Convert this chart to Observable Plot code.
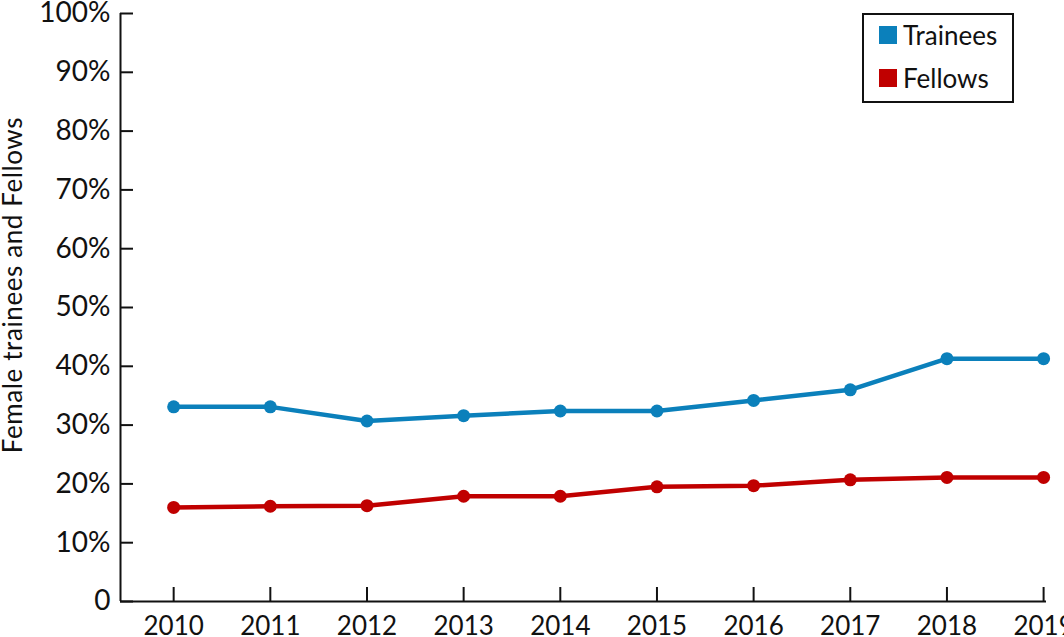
<!DOCTYPE html>
<html>
<head>
<meta charset="utf-8">
<script src="https://cdn.jsdelivr.net/npm/d3@7"></script>
<script src="https://cdn.jsdelivr.net/npm/@observablehq/plot@0.6"></script>
<style>
  html, body { margin: 0; padding: 0; background: #fff; }
  #wrap { position: relative; width: 1064px; height: 637px; overflow: hidden; font-family: Lato, "Noto Sans", sans-serif; }
  #legend { position: absolute; left: 862px; top: 13px; width: 148px; height: 86px; border: 2px solid #111; background: #fff; }
  .item { position: absolute; left: 15px; display: flex; align-items: center; font-size: 26px; color: #111; }
  .sw { width: 18px; height: 18px; margin-right: 6px; }
  #ytitle { position: absolute; left: 12px; top: 285px; transform: translate(-50%, -50%) rotate(-90deg); white-space: nowrap; font-size: 26px; letter-spacing: 0.6px; color: #111; }
</style>
</head>
<body>
<div id="wrap"></div>
<script>
const years = [2010, 2011, 2012, 2013, 2014, 2015, 2016, 2017, 2018, 2019];
const trainees = [33.1, 33.1, 30.7, 31.6, 32.4, 32.4, 34.2, 36.0, 41.3, 41.3];
const fellows = [16.0, 16.2, 16.3, 17.9, 17.9, 19.5, 19.7, 20.7, 21.1, 21.1];
const seriesNames = ["Trainees", "Fellows"];
const seriesColors = ["#0b80bb", "#c00000"];
const yTicks = [0, 10, 20, 30, 40, 50, 60, 70, 80, 90, 100];
const yTitle = "Female trainees and Fellows";

const data = [
  ...years.map((y, i) => ({year: y, value: trainees[i], series: seriesNames[0]})),
  ...years.map((y, i) => ({year: y, value: fellows[i], series: seriesNames[1]}))
];

const chart = Plot.plot({
  width: 1064,
  height: 637,
  marginLeft: 120,
  marginRight: 18,
  marginTop: 13,
  marginBottom: 36,
  style: {fontFamily: "Lato, 'Noto Sans', sans-serif", color: "#111", background: "#fff", overflow: "visible"},
  x: {domain: [2009.45, 2019.03]},
  y: {domain: [0, 100]},
  color: {domain: seriesNames, range: seriesColors},
  marks: [
    Plot.ruleY([0], {stroke: "#111", strokeWidth: 2}),
    Plot.ruleX([2009.45], {stroke: "#111", strokeWidth: 2}),
    Plot.axisY({ticks: yTicks, tickSize: -13, tickPadding: 23, strokeWidth: 2,
      tickFormat: d => d === 0 ? "0" : d + "%", fontSize: 28, label: null}),
    Plot.axisX({ticks: years, tickSize: -14, tickPadding: 29, strokeWidth: 2,
      tickFormat: d => String(d), fontSize: 26, label: null}),
    Plot.line(data, {x: "year", y: "value", z: "series", stroke: "series", strokeWidth: 4.5}),
    Plot.dot(data, {x: "year", y: "value", fill: "series", r: 6.5})
  ]
});

const wrap = document.getElementById("wrap");
wrap.appendChild(chart);
const title = document.createElement("div");
title.id = "ytitle";
title.textContent = yTitle;
wrap.appendChild(title);
const legend = document.createElement("div");
legend.id = "legend";
seriesNames.forEach((name, i) => {
  const item = document.createElement("div");
  item.className = "item";
  item.style.top = (i === 0 ? 4 : 47) + "px";
  const sw = document.createElement("span");
  sw.className = "sw";
  sw.style.background = seriesColors[i];
  item.appendChild(sw);
  item.appendChild(document.createTextNode(name));
  legend.appendChild(item);
});
wrap.appendChild(legend);
</script>
</body>
</html>
